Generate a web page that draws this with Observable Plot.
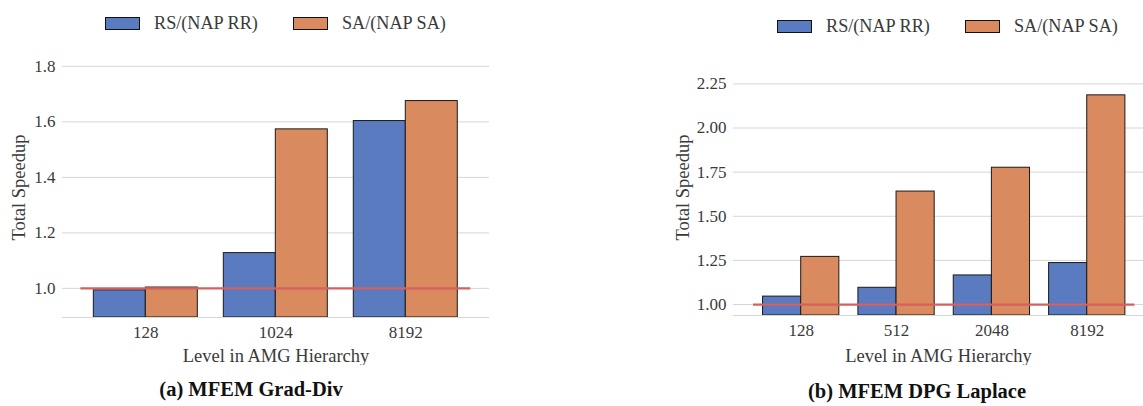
<!DOCTYPE html>
<html>
<head>
<meta charset="utf-8">
<script src="https://cdn.jsdelivr.net/npm/d3@7"></script>
<script src="https://cdn.jsdelivr.net/npm/@observablehq/plot@0.6"></script>
<style>
  html, body { margin: 0; padding: 0; background: #fff; }
  #root { position: relative; width: 1143px; height: 406px; overflow: hidden; font-family: "Liberation Serif", "Times New Roman", serif; color: #3a3a3a; }
  #root svg, #root svg text { font-family: "Liberation Serif", "Times New Roman", serif !important; }
  .abs { position: absolute; }
  .legend { position: absolute; display: flex; align-items: center; font-size: 18.2px; white-space: nowrap; }
  .sw { width: 33px; height: 11px; border: 1px solid #111; display: inline-block; margin-right: 14px; }
  .item { display: flex; align-items: center; margin-right: 35px; }
  .caption { position: absolute; font-weight: bold; font-size: 20.5px; transform: translateX(-50%); white-space: nowrap; color: #111; }
</style>
</head>
<body>
<div id="root"></div>
<script>
const seriesNames = ["RS/(NAP RR)", "SA/(NAP SA)"];
const colors = ["#5a7bbf", "#da8a5f"];

// Panel (a) MFEM Grad-Div
const levelsA = ["128", "1024", "8192"];
const rsA = [0.993, 1.127, 1.603];
const saA = [1.003, 1.573, 1.675];

// Panel (b) MFEM DPG Laplace
const levelsB = ["128", "512", "2048", "8192"];
const rsB = [1.045, 1.095, 1.165, 1.235];
const saB = [1.27, 1.64, 1.775, 2.185];

const yTicksA = [1.0, 1.2, 1.4, 1.6, 1.8];
const yTicksB = [1.0, 1.25, 1.5, 1.75, 2.0, 2.25];

function buildRows(levels, rs, sa) {
  const rows = [];
  levels.forEach((l, i) => {
    rows.push({i, level: l, series: seriesNames[0], k: 0, value: rs[i]});
    rows.push({i, level: l, series: seriesNames[1], k: 1, value: sa[i]});
  });
  return rows;
}

function panel(cfg) {
  const rows = buildRows(cfg.levels, cfg.rs, cfg.sa);
  const n = cfg.levels.length;
  const bw = 0.4;
  const svg = Plot.plot({
    width: cfg.width, height: cfg.height,
    marginLeft: cfg.ml, marginRight: cfg.mr, marginTop: cfg.mt, marginBottom: cfg.mb,
    style: {fontFamily: "'Liberation Serif', serif", fontSize: "17px", color: "#3a3a3a", background: "transparent"},
    x: {domain: cfg.xdom},
    y: {domain: cfg.ydom},
    color: {domain: seriesNames, range: colors},
    marks: [
      Plot.gridY(cfg.yticks, {stroke: "#d6d6d6", strokeOpacity: 1, strokeWidth: 1}),
      Plot.ruleY([cfg.ydom[0]], {stroke: "#d6d6d6", strokeWidth: 1.2}),
      Plot.rectY(rows, {
        x1: d => d.i - bw + d.k * bw,
        x2: d => d.i + d.k * bw,
        y1: cfg.ydom[0],
        y2: "value",
        fill: "series",
        stroke: "#1a1a1a",
        strokeWidth: 1,
        clip: true
      }),
      Plot.ruleY([1], {x1: -0.5, x2: n - 0.5, stroke: "#d65f5f", strokeWidth: 2.2}),
      Plot.axisY({
        ticks: cfg.yticks, tickSize: 0, tickPadding: 7,
        tickFormat: cfg.yfmt, fontSize: 17, fill: "#3a3a3a", label: null
      }),
      Plot.axisY({
        ticks: [], tickSize: 0, fontSize: 18.5, fill: "#3a3a3a",
        label: "Total Speedup", labelAnchor: "center", labelOffset: cfg.ylo, labelArrow: "none"
      }),
      Plot.axisX({
        ticks: d3.range(n), tickSize: 0, tickPadding: 8,
        tickFormat: i => cfg.levels[i], fontSize: 17, fill: "#3a3a3a", label: null
      }),
      Plot.axisX({
        ticks: [], tickSize: 0, fontSize: 18.5, fill: "#3a3a3a",
        label: "Level in AMG Hierarchy", labelAnchor: "center", labelOffset: cfg.xlo, labelArrow: "none"
      })
    ]
  });
  svg.style.fontFamily = "'Liberation Serif', serif";
  svg.querySelectorAll("text").forEach(t => t.setAttribute("font-family", "Liberation Serif, serif"));
  return svg;
}

function legend(left, top) {
  const div = document.createElement("div");
  div.className = "legend";
  div.style.left = left + "px";
  div.style.top = top + "px";
  seriesNames.forEach((s, j) => {
    const it = document.createElement("div");
    it.className = "item";
    const sw = document.createElement("span");
    sw.className = "sw";
    sw.style.background = colors[j];
    it.appendChild(sw);
    const t = document.createElement("span");
    t.textContent = s;
    it.appendChild(t);
    div.appendChild(it);
  });
  return div;
}

const root = document.getElementById("root");

const svgA = panel({
  levels: levelsA, rs: rsA, sa: saA, yticks: yTicksA, yfmt: d3.format(".1f"),
  width: 500, height: 325, ml: 62, mr: 11, mt: 17, mb: 48,
  xdom: [-0.641, 2.644], ydom: [0.895, 1.832], ylo: 51, xlo: 44
});
const wrapA = document.createElement("div");
wrapA.className = "abs"; wrapA.style.left = "0px"; wrapA.style.top = "40px";
wrapA.appendChild(svgA);
root.appendChild(wrapA);

const svgB = panel({
  levels: levelsB, rs: rsB, sa: saB, yticks: yTicksB, yfmt: d3.format(".2f"),
  width: 503, height: 325, ml: 93, mr: 0, mt: 19, mb: 50,
  xdom: [-0.71, 3.59], ydom: [0.938, 2.388], ylo: 58, xlo: 46
});
const wrapB = document.createElement("div");
wrapB.className = "abs"; wrapB.style.left = "640px"; wrapB.style.top = "40px";
wrapB.appendChild(svgB);
root.appendChild(wrapB);

root.appendChild(legend(105, 13));
root.appendChild(legend(777, 16));

const capA = document.createElement("div");
capA.className = "caption"; capA.style.left = "251px"; capA.style.top = "378px";
capA.textContent = "(a) MFEM Grad-Div";
root.appendChild(capA);
const capB = document.createElement("div");
capB.className = "caption"; capB.style.left = "917px"; capB.style.top = "380px";
capB.textContent = "(b) MFEM DPG Laplace";
root.appendChild(capB);
</script>
</body>
</html>
